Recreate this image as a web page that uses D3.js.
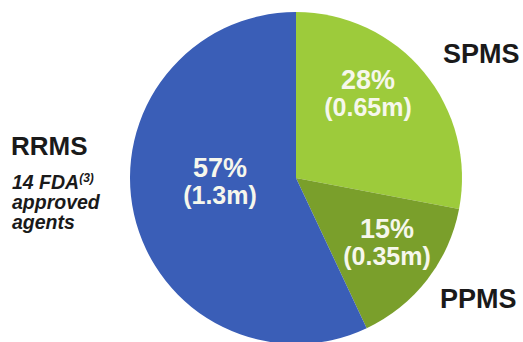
<!DOCTYPE html>
<html>
<head>
<meta charset="utf-8">
<script src="https://cdn.jsdelivr.net/npm/d3@7"></script>
<style>
html,body{margin:0;padding:0;background:#fff;}
svg{display:block;font-family:"Liberation Sans",Arial,sans-serif;}
</style>
</head>
<body>
<svg id="chart" width="523" height="342"></svg>
<script>
const categories = ["SPMS", "PPMS", "RRMS"];
const shares = [28, 15, 57];
const patients = ["(0.65m)", "(0.35m)", "(1.3m)"];
const colors = ["#9dcb3b", "#7a9f2b", "#3a5eb7"];
const noteLines = ["14 FDA", "approved", "agents"];

const svg = d3.select("#chart");
const cx = 296, cy = 178, r = 166;
const g = svg.append("g").attr("transform", `translate(${cx},${cy})`);

const pie = d3.pie().sort(null).value(d => d.v);
const data = pie(categories.map((c, i) => ({c, v: shares[i], p: patients[i], col: colors[i]})));
const arc = d3.arc().innerRadius(0).outerRadius(r);

g.selectAll("path").data(data).join("path")
  .attr("d", arc)
  .attr("fill", d => d.data.col);

// in-slice labels
const labelPos = {SPMS: [72, -89], PPMS: [91, 60], RRMS: [-76, -1]};
data.forEach(d => {
  const [x, y] = labelPos[d.data.c];
  const t = g.append("text").attr("text-anchor", "middle").attr("fill", "#f6f7ec")
    .attr("font-weight", "bold");
  t.append("tspan").attr("x", x).attr("y", y).attr("font-size", 27).text(d.data.v + "%");
  t.append("tspan").attr("x", x).attr("y", y + 27).attr("font-size", 25).text(d.data.p);
});

// outside labels
svg.append("text").attr("x", 443).attr("y", 63).attr("font-size", 27)
  .attr("font-weight", "bold").attr("fill", "#1a1a1a").text("SPMS");
svg.append("text").attr("x", 440).attr("y", 308).attr("font-size", 27)
  .attr("font-weight", "bold").attr("fill", "#1a1a1a").text("PPMS");
svg.append("text").attr("x", 11).attr("y", 155).attr("font-size", 26)
  .attr("font-weight", "bold").attr("fill", "#1a1a1a").text("RRMS");

const note = svg.append("text").attr("font-size", 19.5).attr("font-weight", "bold")
  .attr("font-style", "italic").attr("fill", "#1a1a1a");
noteLines.forEach((s, i) => {
  note.append("tspan").attr("x", 12).attr("y", 189 + i * 20).text(s);
  if (i === 0) note.append("tspan").attr("font-size", 12).attr("dy", -7).text("(3)");
});
</script>
</body>
</html>
